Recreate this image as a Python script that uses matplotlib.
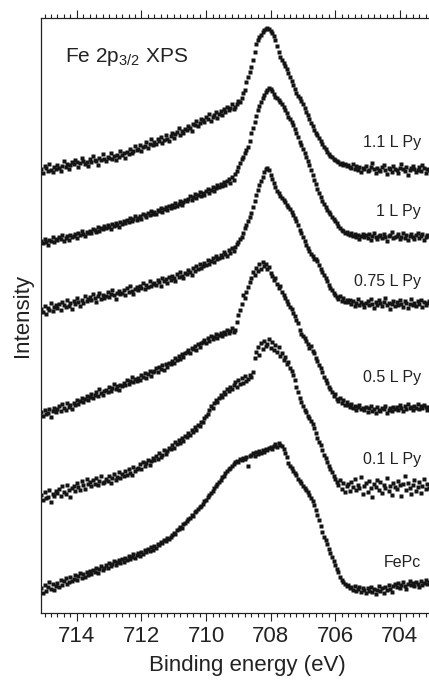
import numpy as np
import matplotlib.pyplot as plt

plt.rcParams['font.family'] = ['Liberation Sans', 'DejaVu Sans']
plt.rcParams['mathtext.default'] = 'regular'

# binding energy grid (eV), 0.05 eV steps from 715.1 down to 703.1
energy = np.linspace(715.1, 703.1, 241)

# intensities (arb. units), relative to each spectrum's baseline
py_11 = [
    1, -3, 4, 2, -1, 6, 0, -2, 3, 1,
    5, 2, -1, 4, 9, 3, 6, 1, 5, 8,
    6, 10, 8, 3, 7, 12, 9, 6, 8, 4,
    11, 8, 14, 10, 9, 5, 12, 10, 16, 11,
    9, 13, 12, 17, 11, 14, 10, 15, 13, 19,
    15, 17, 12, 18, 16, 21, 17, 19, 24, 20,
    21, 25, 19, 23, 24, 28, 22, 26, 31, 25,
    28, 26, 31, 29, 33, 27, 30, 35, 31, 29,
    34, 37, 32, 36, 38, 42, 35, 39, 37, 41,
    40, 44, 42, 39, 46, 45, 49, 44, 47, 51,
    50, 48, 53, 51, 56, 49, 53, 55, 58, 52,
    56, 59, 55, 61, 58, 63, 60, 62, 66, 61,
    63, 66, 69, 68, 72, 77, 80, 88, 93, 98,
    103, 110, 118, 126, 130, 133, 135, 138, 140, 141,
    142, 141, 139, 137, 134, 130, 124, 118, 113, 110,
    107, 104, 101, 97, 93, 89, 85, 81, 77, 74,
    72, 69, 66, 62, 58, 55, 51, 47, 44, 40,
    37, 35, 32, 29, 26, 23, 21, 18, 16, 14,
    13, 11, 10, 9, 8, 6, 7, 5, 6, 4,
    5, 3, 2, 6, 1, 4, 0, 3, -2, 2,
    1, 4, -1, 0, 3, 7, 1, -3, 2, 0,
    -1, 3, 5, 0, -4, 2, 1, -2, 4, 1,
    0, -3, 2, 6, 1, -1, 3, -5, 0, 2,
    4, 1, -2, 0, 3, -1, 5, 2, -3, 1, 0,
]

py_1 = [
    -4, -6, -2, -5, -8, -3, -4, 0, -5, -2,
    -3, 0, -2, 2, -4, -1, 1, -3, 2, 0,
    1, 3, -1, 4, 2, 6, 3, 1, 5, 4,
    6, 4, 8, 7, 5, 10, 6, 9, 8, 11,
    9, 12, 10, 8, 13, 11, 14, 12, 10, 15,
    13, 16, 14, 17, 15, 19, 16, 18, 21, 17,
    19, 21, 18, 23, 22, 20, 24, 22, 26, 23,
    25, 23, 27, 26, 29, 25, 28, 30, 27, 31,
    29, 32, 30, 34, 31, 33, 36, 32, 35, 37,
    36, 38, 41, 37, 40, 43, 39, 42, 45, 41,
    44, 42, 46, 48, 44, 47, 50, 46, 49, 52,
    50, 53, 51, 55, 52, 56, 58, 54, 60, 57,
    63, 66, 70, 74, 78, 80, 84, 87, 90, 96,
    104, 109, 115, 121, 127, 131, 135, 139, 142, 145,
    147, 149, 148, 146, 143, 140, 139, 137, 135, 133,
    130, 127, 124, 120, 118, 115, 112, 108, 104, 100,
    95, 92, 88, 84, 80, 76, 72, 67, 62, 57,
    53, 48, 44, 40, 36, 33, 30, 27, 25, 23,
    20, 18, 16, 14, 11, 9, 7, 6, 4, 5,
    3, 2, 4, 1, 3, 0, 2, -2, 1, 3,
    0, 2, -1, 3, -3, 1, 4, 0, -2, 1,
    2, -1, 3, 0, -4, 1, 2, 5, -1, 0,
    1, 3, -2, 0, 4, -1, 2, -3, 1, 3,
    0, -2, 2, 4, -1, 1, 3, -3, 0, 2, 1,
]

py_075 = [
    -4, -7, -1, -9, -3, -5, 2, -6, -2, 0,
    -3, 1, -5, 3, 0, -2, 5, -1, 2, -4,
    4, 1, 7, 3, -1, 5, 2, 9, 4, 6,
    8, 5, 11, 7, 3, 9, 12, 6, 10, 7,
    9, 13, 8, 11, 15, 10, 6, 12, 14, 11,
    12, 15, 10, 17, 13, 19, 14, 11, 16, 18,
    15, 19, 17, 22, 16, 20, 18, 24, 19, 21,
    22, 20, 25, 23, 19, 27, 24, 26, 22, 28,
    25, 29, 27, 24, 31, 28, 33, 29, 27, 32,
    31, 35, 33, 30, 37, 34, 39, 36, 41, 37,
    39, 42, 40, 45, 41, 44, 47, 43, 49, 46,
    47, 50, 48, 53, 51, 49, 55, 52, 57, 54,
    58, 61, 63, 66, 68, 72, 77, 80, 84, 88,
    92, 98, 104, 110, 115, 120, 124, 128, 133, 136,
    137, 135, 130, 126, 122, 118, 114, 112, 109, 107,
    105, 103, 100, 98, 96, 93, 90, 87, 84, 80,
    75, 72, 68, 64, 60, 57, 54, 51, 49, 46,
    46, 44, 40, 36, 33, 30, 27, 24, 20, 17,
    15, 12, 10, 8, 6, 9, 4, 7, 3, 5,
    3, 5, 1, 4, -1, 2, 6, 0, 3, 1,
    -2, 2, 4, 0, 6, 1, -3, 3, 0, 5,
    2, -1, 3, 7, 0, 2, -4, 1, 4, -1,
    3, 0, 5, 1, -2, 4, 2, -3, 1, 6,
    0, 2, -1, 4, 1, 5, -2, 3, 0, 2, 4,
]

py_05 = [
    -4, -8, -2, -6, -5, -1, -9, -3, 0, -4,
    -1, 2, -3, 4, 0, -2, 5, 1, 3, -1,
    5, 3, 8, 4, 7, 10, 6, 9, 12, 8,
    11, 14, 10, 13, 16, 12, 19, 15, 13, 17,
    18, 16, 21, 17, 20, 24, 19, 22, 18, 23,
    22, 25, 23, 28, 24, 27, 31, 26, 29, 27,
    30, 28, 33, 31, 35, 30, 34, 37, 32, 36,
    37, 40, 36, 41, 39, 43, 38, 44, 41, 45,
    44, 47, 45, 50, 48, 52, 49, 54, 51, 55,
    56, 58, 55, 60, 59, 62, 58, 64, 61, 65,
    66, 68, 65, 70, 67, 72, 69, 71, 74, 70,
    73, 75, 72, 76, 74, 78, 75, 77, 80, 76,
    78, 86, 93, 98, 104, 113, 110, 116, 121, 126,
    130, 136, 133, 140, 137, 144, 139, 146, 142, 144,
    139, 141, 135, 132, 128, 130, 124, 120, 122, 116,
    113, 110, 107, 104, 101, 99, 95, 92, 88, 85,
    78, 74, 72, 70, 67, 64, 60, 62, 57, 55,
    50, 47, 43, 40, 36, 31, 28, 25, 21, 19,
    16, 12, 14, 9, 7, 10, 5, 8, 3, 6,
    3, 1, 4, 0, 2, -2, 1, 3, -1, 0,
    -2, 1, -4, 0, 2, -3, -1, -5, 1, -2,
    -3, 0, -1, 2, -5, -2, 0, -3, 1, -1,
    1, -2, 3, 0, -3, 2, -1, 4, 0, 1,
    -2, 2, 0, 4, -1, 2, 0, 3, 1, -2, 1,
]

py_01 = [
    -7, -12, -4, -10, -9, -2, -14, -6, -8, -3,
    -5, -1, -8, 2, -4, -6, 3, -2, -9, 0,
    2, -3, 5, 1, -2, 7, 3, -1, 9, 4,
    6, 2, 8, 4, 10, 3, 7, 12, 5, 6,
    9, 7, 12, 5, 10, 14, 8, 11, 16, 10,
    14, 12, 17, 13, 19, 15, 13, 21, 17, 19,
    20, 24, 19, 26, 22, 25, 28, 23, 27, 30,
    28, 32, 29, 35, 31, 33, 38, 34, 37, 40,
    39, 43, 40, 46, 44, 48, 45, 50, 47, 52,
    51, 55, 53, 58, 56, 61, 58, 63, 62, 66,
    66, 70, 72, 74, 78, 82, 80, 85, 88, 86,
    90, 93, 91, 96, 94, 99, 97, 101, 99, 103,
    106, 101, 108, 104, 110, 105, 112, 107, 109, 113,
    111, 116, 130, 136, 141, 133, 145, 139, 147, 142,
    144, 149, 140, 146, 138, 143, 136, 141, 132, 135,
    128, 131, 124, 126, 120, 117, 113, 108, 101, 96,
    90, 86, 82, 78, 76, 72, 70, 67, 64, 60,
    55, 50, 46, 43, 38, 33, 30, 26, 22, 19,
    16, 12, 9, 6, 3, 8, -1, 5, -4, 2,
    4, -3, 6, 1, 9, -2, 3, 0, 11, -6,
    2, 5, -4, 7, 0, -9, 4, 1, 8, -2,
    6, -5, 3, 0, 10, -3, 2, -7, 5, 1,
    -1, 7, 3, -8, 4, 12, -2, 5, 0, -6,
    3, 8, -3, 1, 6, -5, 2, 9, -1, 4, 0,
]

fepc = [
    -1, -6, 2, -4, 0, 5, -2, 3, -3, 1,
    4, 0, 7, 2, 6, 9, 3, 5, 10, 6,
    8, 12, 7, 11, 14, 9, 13, 10, 15, 12,
    16, 13, 17, 15, 19, 14, 18, 21, 17, 19,
    22, 19, 24, 21, 23, 26, 22, 25, 27, 24,
    28, 25, 29, 27, 31, 28, 30, 33, 29, 32,
    34, 31, 35, 33, 37, 35, 38, 36, 40, 37,
    41, 39, 43, 42, 45, 44, 47, 46, 49, 48,
    50, 52, 54, 53, 57, 58, 60, 59, 63, 64,
    66, 68, 69, 72, 71, 75, 76, 78, 80, 81,
    83, 86, 87, 90, 92, 94, 96, 99, 101, 103,
    105, 107, 110, 111, 114, 116, 118, 119, 121, 123,
    125, 126, 125, 128, 127, 129, 128, 130, 121, 131,
    132, 134, 131, 135, 133, 136, 134, 137, 135, 138,
    137, 139, 140, 138, 141, 143, 140, 144, 142, 141,
    138, 134, 130, 124, 121, 119, 116, 114, 112, 108,
    106, 104, 101, 99, 97, 95, 92, 89, 86, 82,
    77, 72, 67, 61, 55, 50, 47, 43, 38, 34,
    30, 26, 22, 18, 15, 10, 7, 5, 3, 1,
    2, -1, 0, -3, 1, -4, -2, 0, -5, -1,
    -3, -6, -1, -4, 0, -5, -2, -7, -3, 1,
    -4, -1, -6, 0, -3, 2, -2, -5, 1, 3,
    0, 4, -1, 2, 5, 1, -2, 3, 6, 2,
    4, 1, 5, 3, 0, 6, 2, 4, 7, 3, 5,
]

spectra = [py_11, py_1, py_075, py_05, py_01, fepc]
labels = ["1.1 L Py", "1 L Py", "0.75 L Py", "0.5 L Py", "0.1 L Py", "FePc"]
offsets = [443, 376, 308, 205, 125, 26]
label_heights = [466, 397, 327, 231, 149, 46]

fig = plt.figure(figsize=(4.29, 6.80), dpi=100)
ax = fig.add_axes([41 / 429, 67 / 680, 412 / 429, 595 / 680])

for vals, off in zip(spectra, offsets):
    n = min(len(vals), len(energy))
    ax.plot(energy[:n], np.array(vals[:n]) + off, 's', ms=2.8,
            color='#141414', mec='none')

for lab, h in zip(labels, label_heights):
    ax.text(703.35, h, lab, ha='right', va='baseline', fontsize=11.5,
            color='#222222')

ax.text(714.37, 551, r"Fe 2p$_{3/2}$ XPS", ha='left', va='baseline',
        fontsize=15, color='#222222')

ax.set_xlim(715.11, 715.11 - 412 / 32.3)
ax.set_ylim(0, 595)
ax.set_xticks([714, 712, 710, 708, 706, 704])
ax.set_xticks(np.arange(715.0, 702.9, -0.2), minor=True)
ax.set_yticks([])
ax.tick_params(axis='x', which='both', direction='out', top=True,
               bottom=True, labelsize=16, colors='#222222', width=0.8)
ax.tick_params(axis='x', which='major', length=5.5)
ax.tick_params(axis='x', which='minor', length=3)
for s in ax.spines.values():
    s.set_linewidth(0.9)
    s.set_color('#222222')

ax.set_xlabel("Binding energy (eV)", fontsize=16, color='#222222', labelpad=6)
ax.set_ylabel("Intensity", fontsize=16, color='#222222', labelpad=6)

fig.savefig('out.png', dpi=100)
